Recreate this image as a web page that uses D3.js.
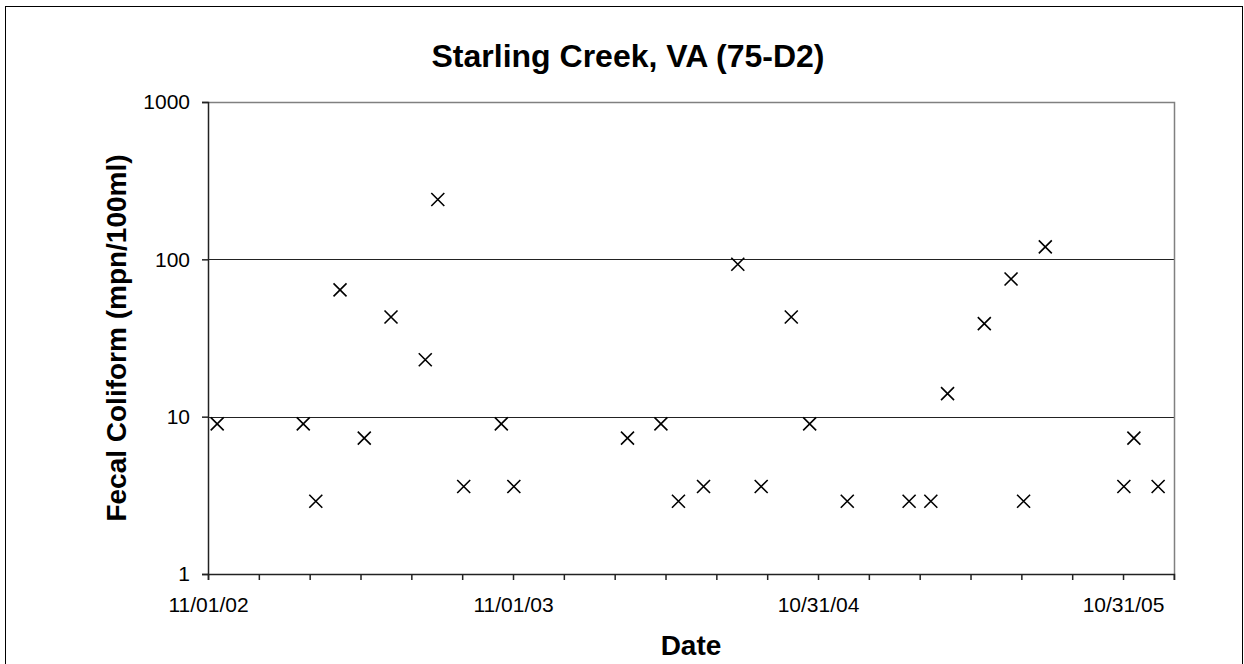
<!DOCTYPE html>
<html>
<head>
<meta charset="utf-8">
<title>Starling Creek, VA (75-D2)</title>
<script src="https://cdn.jsdelivr.net/npm/d3@7"></script>
<style>
	body{margin:0;background:#fff;}
	svg{display:block;font-family:"Liberation Sans", Arial, sans-serif;}
</style>
</head>
<body>
<svg></svg>
<script>
// sample dates and fecal coliform readings (mpn/100ml)
const sampleDates=[
	"2002-11-12","2003-02-23","2003-03-10","2003-04-08","2003-05-07",
	"2003-06-08","2003-07-19","2003-08-03","2003-09-03","2003-10-18",
	"2003-11-02","2004-03-17","2004-04-26","2004-05-17","2004-06-16",
	"2004-07-27","2004-08-24","2004-09-29","2004-10-21","2004-12-05",
	"2005-02-17","2005-03-15","2005-04-04","2005-05-18","2005-06-19",
	"2005-07-04","2005-07-30","2005-11-01","2005-11-13","2005-12-12"
]
const coliform=[
	9, 9, 2.9, 64, 7.3,
	43, 23, 240, 3.6, 9,
	3.6, 7.3, 9, 2.9, 3.6,
	93, 3.6, 43, 9, 2.9,
	2.9, 2.9, 14, 39, 75,
	2.9, 120, 3.6, 7.3, 3.6
]

// axis labels
const dateLabels=["11/01/02","11/01/03","10/31/04","10/31/05"]
const dateRange=["11/01/02","12/31/05"]
const yTicks=[1,10,100,1000]

const parseIso=d3.utcParse("%Y-%m-%d")
const parseLabel=d3.utcParse("%m/%d/%y")
const formatLabel=d3.utcFormat("%m/%d/%y")

const width=1244
const height=664
const plot={left:208,right:1174,top:102,bottom:574}

const svg=d3.select("svg")
	.attr("width", width)
	.attr("height", height)

//outer frame of the chart
svg.append("rect")
	.attr("x", 5.5)
	.attr("y", 6.5)
	.attr("width", 1237)
	.attr("height", 680)
	.attr("fill", "none")
	.attr("stroke", "#000")
	.attr("stroke-width", 1)

const x=d3.scaleUtc()
	.domain(dateRange.map(parseLabel))
	.range([plot.left, plot.right])

const y=d3.scaleLog()
	.domain([1,1000])
	.range([plot.bottom, plot.top])

//gridlines at each decade
svg.append("g")
	.selectAll("line")
	.data(yTicks.slice(1,-1))
	.enter()
	.append("line")
	.attr("x1", plot.left)
	.attr("x2", plot.right)
	.attr("y1", d=>Math.round(y(d))+0.5)
	.attr("y2", d=>Math.round(y(d))+0.5)
	.attr("stroke", "#222")
	.attr("stroke-width", 1)

//plot area border on top and right
svg.append("path")
	.attr("d", `M${plot.left},${plot.top+0.5}H${plot.right+0.5}V${plot.bottom}`)
	.attr("fill", "none")
	.attr("stroke", "#808080")
	.attr("stroke-width", 1.5)

//tick positions, six to a year between the labelled dates
const start=parseLabel(dateLabels[0])
const step=(parseLabel(dateLabels[1])-start)/6
const xTickValues=d3.range(0, 20).map(i=>new Date(start.getTime()+i*step))

const xAxis=d3.axisBottom(x)
	.tickValues(xTickValues)
	.tickSize(6)
	.tickPadding(17)
	.tickFormat((d,i)=>{
		const lab=formatLabel(d)
		return dateLabels.includes(lab) ? lab : ""
	})

const yAxis=d3.axisLeft(y)
	.tickValues(yTicks)
	.tickSize(6)
	.tickPadding(12)
	.tickFormat(d3.format("d"))

const xg=svg.append("g")
	.attr("transform", `translate(0,${plot.bottom})`)
	.call(xAxis)

const yg=svg.append("g")
	.attr("transform", `translate(${plot.left},0)`)
	.call(yAxis)

//style both axes like the original
svg.selectAll(".domain, .tick line")
	.attr("stroke", "#222")
	.attr("stroke-width", 1.5)
svg.selectAll(".tick text")
	.attr("fill", "#000")
	.style("font-size", "21px")

//the crosses
svg.append("g")
	.selectAll("path")
	.data(coliform)
	.enter()
	.append("path")
	.attr("transform", (d,i)=>`translate(${x(parseIso(sampleDates[i]))},${y(d)})`)
	.attr("d", "M-6.5,-6.5L6.5,6.5M-6.5,6.5L6.5,-6.5")
	.attr("stroke", "#000")
	.attr("stroke-width", 1.6)
	.attr("fill", "none")

//titles
svg.append("text")
	.attr("x", 628)
	.attr("y", 67)
	.attr("text-anchor", "middle")
	.style("font-size", "32px")
	.style("font-weight", "bold")
	.text("Starling Creek, VA (75-D2)")

svg.append("text")
	.attr("x", (plot.left+plot.right)/2)
	.attr("y", 655)
	.attr("text-anchor", "middle")
	.style("font-size", "28px")
	.style("font-weight", "bold")
	.text("Date")

svg.append("text")
	.attr("transform", `translate(126,${(plot.top+plot.bottom)/2}) rotate(-90)`)
	.attr("text-anchor", "middle")
	.style("font-size", "28px")
	.style("font-weight", "bold")
	.text("Fecal Coliform (mpn/100ml)")
</script>
</body>
</html>
